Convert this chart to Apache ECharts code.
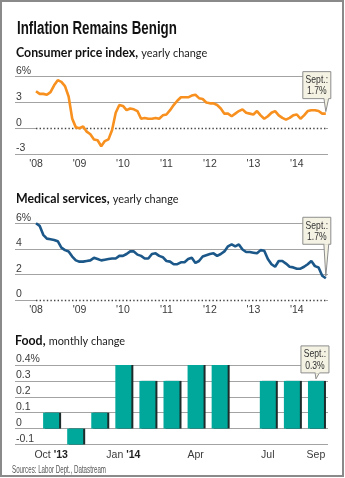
<!DOCTYPE html>
<html><head><meta charset="utf-8">
<script src="https://cdn.jsdelivr.net/npm/echarts@6/dist/echarts.min.js"></script>
<style>html,body{margin:0;padding:0;background:#fff}#c{width:345px;height:478px}</style>
</head><body><div id="c"></div>
<script>
// ---- data ----
var yearTickMonths = [0, 12, 24, 36, 48, 60, 72];
var yearTickLabels = ["'08", "'09", "'10", "'11", "'12", "'13", "'14"];
// CPI, yearly change, Jan 2008 .. Sep 2014
var cpiValues = [
  4.3, 4.0, 4.0, 3.9, 4.2, 5.0, 5.6, 5.4, 4.9, 3.7, 1.1, 0.1,
  0.0, 0.2, -0.4, -0.7, -1.3, -1.4, -2.1, -1.5, -1.3, -0.2, 1.8, 2.7,
  2.6, 2.1, 2.3, 2.2, 2.0, 1.1, 1.2, 1.1, 1.1, 1.2, 1.1, 1.5,
  1.6, 2.1, 2.7, 3.2, 3.6, 3.6, 3.6, 3.8, 3.9, 3.5, 3.4, 3.0,
  2.9, 2.9, 2.7, 2.3, 1.7, 1.7, 1.4, 1.7, 2.0, 2.2, 1.8, 1.7,
  1.6, 2.0, 1.5, 1.1, 1.4, 1.8, 2.0, 1.5, 1.2, 1.0, 1.2, 1.5,
  1.6, 1.1, 1.5, 2.0, 2.1, 2.1, 2.0, 1.7, 1.7
];
// Medical services, yearly change, Jan 2008 .. Sep 2014
var medValues = [
  6.0, 5.8, 5.1, 4.8, 4.75, 4.7, 4.6, 4.1, 3.9, 3.8, 3.4, 3.1,
  3.0, 3.0, 3.05, 3.1, 3.3, 3.2, 3.1, 3.15, 3.2, 3.25, 3.25, 3.45,
  3.45, 3.6, 3.8, 3.8, 3.55, 3.45, 3.25, 3.25, 3.6, 3.65, 3.45, 3.35,
  3.05, 3.0, 2.8, 2.8, 2.95, 2.95, 3.2, 3.3, 2.9, 3.05, 3.4, 3.5,
  3.6, 3.65, 3.45, 3.6, 3.8, 4.2, 4.35, 4.2, 4.35, 3.95, 3.75, 3.75,
  3.7, 3.65, 3.9, 3.85, 3.2, 2.8, 2.6, 3.05, 3.05, 2.85, 2.6, 2.55,
  2.45, 2.45, 2.6, 2.8, 3.05, 2.65, 2.55, 1.9, 1.7
];
// Food, monthly change (leading blank slot keeps the axis start)
var foodCategories = ['', 'Oct', 'Nov', 'Dec', 'Jan', 'Feb', 'Mar', 'Apr', 'May', 'Jun', 'Jul', 'Aug', 'Sep'];
var foodLabels = ['', "Oct|'13", '', '', "Jan|'14", '', '', 'Apr', '', '', 'Jul', '', 'Sep'];
var foodValues = [null, 0.1, -0.1, 0.1, 0.4, 0.3, 0.3, 0.4, 0.4, 0.0, 0.3, 0.3, 0.3];

var cpiNote = ['Sept.:', '1.7%'];
var medNote = ['Sept.:', '1.7%'];
var foodNote = ['Sept.:', '0.3%'];

// ---- styles ----
var NARROW = '"Liberation Sans",Arial,sans-serif';
var SUB = 'Lato,"Open Sans",sans-serif';
var GRID = '#a3a3a3';
var LBL = '#3a3a3a';

function pairs(arr) { return arr.map(function (v, i) { return [i, v]; }); }

function lineX(idx) {
  return {
    type: 'value', gridIndex: idx, min: -5.8, max: 80.6,
    axisLine: { show: false },
    axisTick: { show: false },
    splitLine: { show: false },
    axisLabel: {
      customValues: yearTickMonths, margin: 5,
      fontFamily: NARROW, fontSize: 10.5, color: LBL,
      formatter: function (v) { return yearTickLabels[yearTickMonths.indexOf(v)] || ''; }
    }
  };
}
function valY(idx, min, max, interval, fmt) {
  return {
    type: 'value', gridIndex: idx, min: min, max: max, interval: interval,
    axisLine: { show: false }, axisTick: { show: false },
    splitLine: { show: true, lineStyle: { color: GRID, width: 1.2 } },
    axisLabel: {
      inside: true, margin: 1, verticalAlign: 'bottom',
      fontFamily: NARROW, fontSize: 10.5, color: LBL, formatter: fmt
    }
  };
}
function zeroMark(lastIdx) {
  return {
    silent: true, symbol: 'none', label: { show: false },
    data: [
      [{ coord: [0, 0], lineStyle: { color: '#fff', width: 2, type: 'solid' } }, { coord: [lastIdx, 0] }],
      [{ coord: [0, 0], lineStyle: { color: '#444', width: 1.4, type: [1.4, 2.2] } }, { coord: [lastIdx, 0] }]
    ]
  };
}

var chart = echarts.init(document.getElementById('c'), null, { renderer: 'canvas' });
chart.setOption({
  animation: false,
  grid: [
    { left: 15, right: 17, top: 76.7, height: 77.3 },
    { left: 15, right: 17, top: 223.3, height: 76.7 },
    { left: 15, right: 17, top: 365, height: 79.5 }
  ],
  xAxis: [
    lineX(0), lineX(1),
    {
      type: 'category', gridIndex: 2, data: foodCategories,
      axisLine: { show: false }, axisTick: { show: false }, splitLine: { show: false },
      axisLabel: {
        interval: 0, margin: 5,
        fontFamily: NARROW, fontSize: 10.5, color: LBL,
        formatter: function (v, i) {
          var s = foodLabels[i] || '';
          if (s.indexOf('|') >= 0) { var p = s.split('|'); return p[0] + ' {b|' + p[1] + '}'; }
          return s;
        },
        rich: { b: { fontFamily: NARROW, fontSize: 10.5, fontWeight: 'bold', color: '#222' } }
      }
    }
  ],
  yAxis: [
    valY(0, -3, 6, 3, function (v) { return v === 6 ? '6%' : String(v); }),
    valY(1, 0, 6, 2, function (v) { return v === 6 ? '6%' : String(v); }),
    valY(2, -0.1, 0.4, 0.1, function (v) {
      var r = Math.round(v * 10) / 10; return r === 0.4 ? '0.4%' : String(r);
    })
  ],
  series: [
    {
      type: 'line', xAxisIndex: 0, yAxisIndex: 0, data: pairs(cpiValues),
      symbol: 'none', lineStyle: { color: '#f7901e', width: 2.6 }, z: 5,
      markLine: zeroMark(cpiValues.length - 1)
    },
    {
      type: 'line', xAxisIndex: 1, yAxisIndex: 1, data: pairs(medValues),
      symbol: 'none', lineStyle: { color: '#1b5889', width: 2.6 }, z: 5,
      markLine: zeroMark(medValues.length - 1)
    },
    {
      type: 'bar', xAxisIndex: 2, yAxisIndex: 2, data: foodValues, barWidth: 16,
      itemStyle: { color: '#00a79b', shadowColor: '#1d2b2a', shadowOffsetX: 2, shadowOffsetY: 0, shadowBlur: 0 }
    }
  ]
});

// ---- annotations ----
function callout(pt, lines, boxRight, boxBottom, tailX) {
  var w = 28, h = 27, x = boxRight - w, y = boxBottom - h;
  return [
    { type: 'polygon', z: 20, shape: { points: [[tailX - 3, boxBottom - 1], [tailX + 2, boxBottom - 1], [pt[0], pt[1] - 2]] },
      style: { fill: '#f4f2e3', stroke: '#8d8d8d', lineWidth: 1 } },
    { type: 'rect', z: 21, shape: { x: x, y: y, width: w, height: h },
      style: { fill: '#f4f2e3', stroke: '#8d8d8d', lineWidth: 1 } },
    { type: 'rect', z: 22, shape: { x: tailX - 2.5, y: boxBottom - 1.5, width: 4, height: 2 },
      style: { fill: '#f4f2e3' } },
    { type: 'text', z: 23, x: x + w / 2, y: y + h / 2 + 0.5, scaleX: 0.78,
      style: { x: 0, y: 0, text: lines.join('\n'), align: 'center', verticalAlign: 'middle',
      font: '11px ' + NARROW, fill: '#333', lineHeight: 11.5 } }
  ];
}
var pCpi = chart.convertToPixel({ xAxisIndex: 0, yAxisIndex: 0 }, [cpiValues.length - 1, cpiValues[cpiValues.length - 1]]);
var pMed = chart.convertToPixel({ xAxisIndex: 1, yAxisIndex: 1 }, [medValues.length - 1, medValues[medValues.length - 1]]);
var pFood = chart.convertToPixel({ xAxisIndex: 2, yAxisIndex: 2 }, [foodCategories.length - 1, foodValues[foodValues.length - 1]]);

function sub(y, x, bold, reg) {
  return { type: 'text', z: 10, x: x, y: y, scaleX: 0.95,
    style: { x: 0, y: 0, verticalAlign: 'middle', text: '{b|' + bold + '} {r|' + reg + '}',
      rich: { b: { font: 'bold 13px ' + SUB, fill: '#111' }, r: { font: '11.5px ' + SUB, fill: '#222' } } } };
}
var g = [
  { type: 'rect', z: 1, shape: { x: 1, y: 1, width: 342, height: 475 }, style: { fill: 'none', stroke: '#8a8a8a', lineWidth: 2 } },
  { type: 'text', z: 10, scaleX: 0.74, x: 17, y: 29, style: { x: 0, y: 0, text: 'Inflation Remains Benign', verticalAlign: 'middle',
    font: 'bold 18px ' + NARROW, fill: '#111' } },
  sub(53, 16, 'Consumer price index,', 'yearly change'),
  sub(199, 16, 'Medical services,', 'yearly change'),
  sub(341, 15, 'Food,', 'monthly change'),
  { type: 'text', z: 10, x: 12, y: 470, scaleX: 0.59, style: { x: 0, y: 0, verticalAlign: 'middle', text: 'Sources: Labor Dept., Datastream',
    font: '10.5px ' + NARROW, fill: '#555' } }
];
g = g.concat(callout(pCpi, cpiNote, pCpi[0] + 5, pCpi[1] - 15, pCpi[0] + 1));
g = g.concat(callout(pMed, medNote, pMed[0] + 5, pMed[1] - 34, pMed[0] + 1));
g = g.concat(callout(pFood, foodNote, pFood[0] + 13, pFood[1] - 8, pFood[0] + 2));
chart.setOption({ graphic: g });
</script>
</body></html>
